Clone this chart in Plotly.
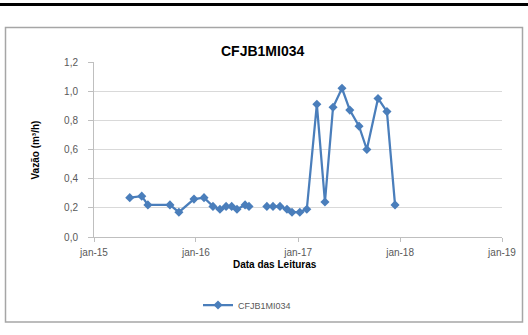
import plotly.graph_objects as go

# Readings of flow (m³/h) for instrument CFJB1MI034
dates = [
    "2015-05-09", "2015-06-21", "2015-07-13", "2015-09-30", "2015-11-01",
    "2015-12-25", "2016-01-30", "2016-03-02", "2016-03-27", "2016-04-18",
    "2016-05-08", "2016-05-27", "2016-06-25", "2016-07-09",
    "2016-09-11", "2016-10-03", "2016-10-28", "2016-11-22", "2016-12-10",
    "2017-01-07", "2017-02-01", "2017-03-09", "2017-04-07", "2017-05-06",
    "2017-06-07", "2017-07-05", "2017-08-07", "2017-09-04", "2017-10-14",
    "2017-11-15", "2017-12-14",
]
vazao = [
    0.27, 0.28, 0.22, 0.22, 0.17,
    0.26, 0.27, 0.21, 0.19, 0.21,
    0.21, 0.19, 0.22, 0.21,
    0.21, 0.21, 0.21, 0.19, 0.17,
    0.17, 0.19, 0.91, 0.24, 0.89,
    1.02, 0.87, 0.76, 0.60, 0.95,
    0.86, 0.22,
]
# the gap between mid-2016 and Sep-2016 is a missing reading
gap_after = "2016-07-09"

x_vals, y_vals = [], []
for d, v in zip(dates, vazao):
    x_vals.append(d)
    y_vals.append(v)
    if d == gap_after:
        x_vals.append("2016-08-10")
        y_vals.append(None)

x_tick_vals = ["2015-01-01", "2016-01-01", "2017-01-01", "2018-01-01", "2019-01-01"]
x_tick_text = ["jan-15", "jan-16", "jan-17", "jan-18", "jan-19"]
y_tick_vals = [0.0, 0.2, 0.4, 0.6, 0.8, 1.0, 1.2]
y_tick_text = ["0,0", "0,2", "0,4", "0,6", "0,8", "1,0", "1,2"]

W, H = 528, 335
L, R, T, B = 94, 26, 62, 98
pw, ph = W - L - R, H - T - B


def px(x):
    return (x - L) / pw


def py(y):
    return (H - B - y) / ph


blue = "#4A7EBB"
fig = go.Figure()
fig.add_trace(go.Scatter(
    x=x_vals, y=y_vals, mode="lines+markers", name="CFJB1MI034",
    connectgaps=False,
    line=dict(color=blue, width=2.25),
    marker=dict(symbol="diamond", size=7, color=blue),
))

font_family = "Liberation Sans, Arial, sans-serif"
tick_font = dict(family=font_family, size=10, color="#595959")
fig.update_layout(
    width=W, height=H,
    margin=dict(l=L, r=R, t=T, b=B),
    paper_bgcolor="white", plot_bgcolor="white",
    showlegend=True,
    legend=dict(orientation="h", x=px(198), y=py(305), xanchor="left", yanchor="middle",
                font=dict(family=font_family, size=9, color="#595959"),
                bgcolor="rgba(0,0,0,0)"),
    xaxis=dict(type="date", range=["2015-01-01", "2019-01-01"],
               tickvals=x_tick_vals, ticktext=x_tick_text, tickfont=tick_font,
               showgrid=False, showline=True, linecolor="#BFBFBF", linewidth=1,
               ticks="outside", ticklen=4, tickcolor="#BFBFBF", zeroline=False,
               ticklabelstandoff=2),
    yaxis=dict(range=[0, 1.2], tickvals=y_tick_vals, ticktext=y_tick_text, tickfont=tick_font,
               showgrid=True, gridcolor="#D9D9D9", gridwidth=1,
               showline=True, linecolor="#BFBFBF", linewidth=1,
               ticks="outside", ticklen=5, tickcolor="#BFBFBF", zeroline=False,
               ticklabelstandoff=8),
)

# outer chart frame and top rule
fig.add_shape(type="rect", xref="paper", yref="paper",
              x0=px(5.5), x1=px(522.5), y0=py(322), y1=py(27.5),
              line=dict(color="#A6A6A6", width=1.5), layer="below")
fig.add_shape(type="line", xref="paper", yref="paper",
              x0=px(0), x1=px(528), y0=py(4.5), y1=py(4.5),
              line=dict(color="black", width=3))

fig.add_annotation(text="<b>CFJB1MI034</b>", xref="paper", yref="paper",
                   x=px(262), y=py(41), showarrow=False,
                   font=dict(family=font_family, size=14, color="#000000"))
fig.add_annotation(text="<b>Vazão (m³/h)</b>", xref="paper", yref="paper",
                   x=px(27), y=py(150), showarrow=False, textangle=-90,
                   font=dict(family=font_family, size=10, color="#000000"))
fig.add_annotation(text="<b>Data das Leituras</b>", xref="paper", yref="paper",
                   x=px(275), y=py(272), showarrow=False,
                   font=dict(family=font_family, size=10, color="#000000"))

fig.write_html("out.html")
